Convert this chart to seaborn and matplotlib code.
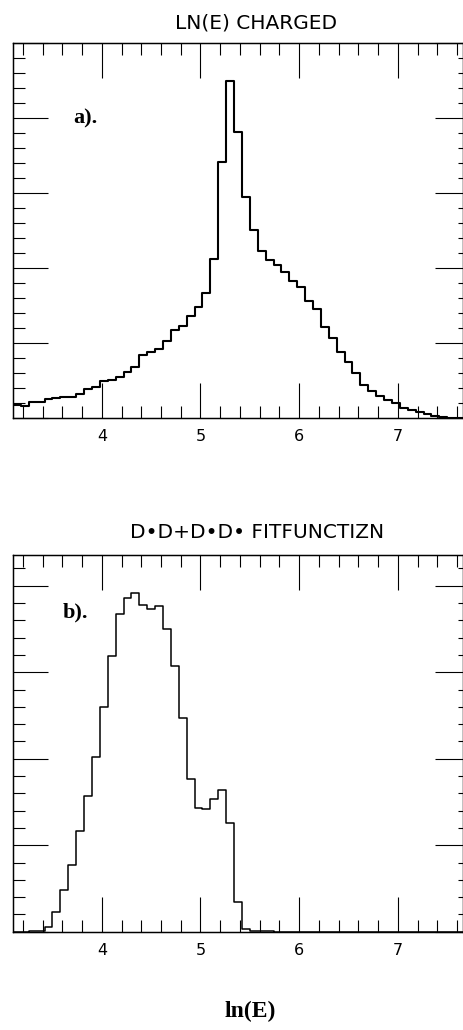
import numpy as np
import pandas as pd
import matplotlib
matplotlib.use("Agg")
import matplotlib.pyplot as plt
from matplotlib.ticker import MultipleLocator, NullFormatter, FixedLocator
import seaborn as sns

# ---- data -------------------------------------------------------------
bin_start = 3.10      # first bin edge (ln E)
bin_width = 0.08
n_bins = 57

# panel a) : LN(E) CHARGED (arbitrary units, one unit = one major y tick)
charged_counts = [0.17, 0.16, 0.21, 0.21, 0.25, 0.26, 0.28, 0.28, 0.32, 0.38,
                  0.41, 0.49, 0.51, 0.55, 0.61, 0.68, 0.84, 0.88, 0.92, 1.03,
                  1.17, 1.22, 1.36, 1.48, 1.66, 2.12, 3.42, 4.49, 3.81, 2.95,
                  2.51, 2.22, 2.10, 2.04, 1.95, 1.82, 1.75, 1.56, 1.45, 1.21,
                  1.06, 0.88, 0.74, 0.60, 0.44, 0.36, 0.29, 0.23, 0.20, 0.13,
                  0.10, 0.07, 0.05, 0.02, 0.01, 0.00, 0.00]

# panel b) : fit function
fit_counts = [0.00, 0.00, 0.005, 0.01, 0.06, 0.23, 0.48, 0.77, 1.16, 1.57,
              2.02, 2.60, 3.19, 3.67, 3.86, 3.91, 3.78, 3.73, 3.77, 3.50,
              3.07, 2.47, 1.76, 1.43, 1.42, 1.53, 1.64, 1.26, 0.34, 0.03,
              0.01, 0.005, 0.003, 0.0, 0.0, 0.0, 0.0, 0.0, 0.0, 0.0,
              0.0, 0.0, 0.0, 0.0, 0.0, 0.0, 0.0, 0.0, 0.0, 0.0,
              0.0, 0.0, 0.0, 0.0, 0.0, 0.0, 0.0]

x_ticks = [4, 5, 6, 7]
x_tick_labels = ["4", "5", "6", "7"]
title_a = "LN(E) CHARGED"
title_b = "D•D+D•D• FITFUNCTIZN"
panel_labels = ["a).", "b)."]
x_label = "ln(E)"

# ---- style ------------------------------------------------------------
sns.set_style("ticks")
plt.rcParams["font.family"] = ["DejaVu Sans"]
plt.rcParams["text.color"] = "black"
plt.rcParams["xtick.color"] = "black"
plt.rcParams["ytick.color"] = "black"
plt.rcParams["axes.edgecolor"] = "black"

x_lo = bin_start
x_hi = bin_start + bin_width * n_bins
centers = [bin_start + bin_width * (i + 0.5) for i in range(n_bins)]
df_a = pd.DataFrame({"lnE": centers, "w": charged_counts})
df_b = pd.DataFrame({"lnE": centers, "w": fit_counts})

W, H = 464, 1030
fig = plt.figure(figsize=(W / 100, H / 100), dpi=100)

ax_a = fig.add_axes([13 / W, 1 - 417.7 / H, 450 / W, 374.4 / H])
ax_b = fig.add_axes([13 / W, 1 - 931.7 / H, 450 / W, 376.7 / H])


def style_axes(ax, ytop):
    ax.set_xlim(x_lo, x_hi)
    ax.set_ylim(0, ytop)
    ax.set_xlabel("")
    ax.set_ylabel("")
    for s in ax.spines.values():
        s.set_visible(True)
        s.set_linewidth(1.0)
        s.set_color("black")
    ax.xaxis.set_major_locator(FixedLocator(x_ticks))
    ax.set_xticklabels(x_tick_labels)
    ax.xaxis.set_minor_locator(MultipleLocator(0.2))
    ax.yaxis.set_major_locator(MultipleLocator(1))
    ax.yaxis.set_minor_locator(MultipleLocator(0.2))
    ax.yaxis.set_major_formatter(NullFormatter())
    ax.tick_params(axis="x", which="major", direction="in", length=25, width=0.8,
                   top=True, bottom=True, labelsize=11.5, pad=8, colors="black")
    ax.tick_params(axis="x", which="minor", direction="in", length=8.5, width=0.8,
                   top=True, bottom=True)
    ax.tick_params(axis="y", which="major", direction="in", length=25, width=0.8,
                   left=True, right=False, labelleft=False)
    ax.tick_params(axis="y", which="minor", direction="in", length=8.5, width=0.8,
                   left=True, right=False)
    # right-hand axis with shorter ticks
    tw = ax.twinx()
    tw.set_ylim(0, ytop)
    tw.yaxis.set_major_locator(MultipleLocator(1))
    tw.yaxis.set_minor_locator(MultipleLocator(0.2))
    tw.yaxis.set_major_formatter(NullFormatter())
    tw.tick_params(axis="y", which="major", direction="in", length=20, width=0.8,
                   left=False, right=True, labelright=False)
    tw.tick_params(axis="y", which="minor", direction="in", length=3.6, width=0.8,
                   left=False, right=True)
    tw.grid(False)
    ax.grid(False)


sns.histplot(data=df_a, x="lnE", weights="w", bins=n_bins, binrange=(x_lo, x_hi),
             element="step", fill=False, color="black", linewidth=1.5, ax=ax_a)
style_axes(ax_a, 5.0)

sns.histplot(data=df_b, x="lnE", weights="w", bins=n_bins, binrange=(x_lo, x_hi),
             element="step", fill=False, color="black", linewidth=1.1, ax=ax_b)
style_axes(ax_b, 4.355)

# titles and labels
fig.text(256 / W, 1 - 23 / H, title_a, ha="center", va="center",
         fontsize=14.5, color="black")
fig.text(257 / W, 1 - 533 / H, title_b, ha="center", va="center",
         fontsize=14.5, color="black")
ax_a.text(60 / 450, 1 - (118 - 43.3) / 374.4, panel_labels[0], transform=ax_a.transAxes,
          ha="left", va="center", fontsize=16, fontweight="bold", color="black",
          family=["Liberation Serif"])
ax_b.text((63 - 13) / 450, 1 - (612 - 555) / 376.7, panel_labels[1], transform=ax_b.transAxes,
          ha="left", va="center", fontsize=16, fontweight="bold", color="black",
          family=["Liberation Serif"])
fig.text(250 / W, 1 - 1011.7 / H, x_label, ha="center", va="center",
         fontsize=17, fontweight="bold", color="black", family=["Liberation Serif"])

fig.savefig("out.png", dpi=100)
